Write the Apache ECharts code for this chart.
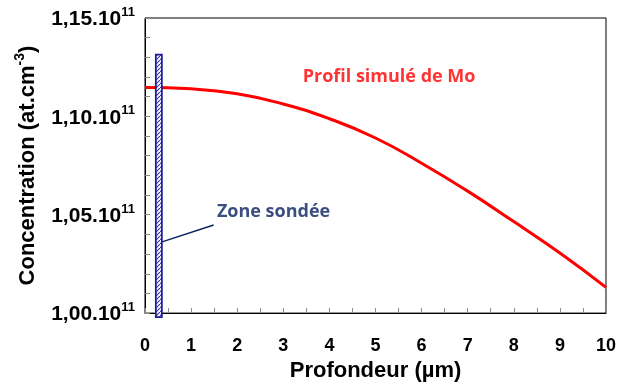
<!DOCTYPE html>
<html>
<head>
<meta charset="utf-8">
<script src="https://cdn.jsdelivr.net/npm/echarts@6/dist/echarts.min.js"></script>
<style>html,body{margin:0;padding:0;background:#fff}#c{width:619px;height:387px}</style>
</head>
<body>
<div id="c"></div>
<script>
// Data
const depth = [0, 1, 2, 3, 4, 5, 6, 7, 8, 9, 10];
const concentration = [1.1147, 1.1140, 1.1115, 1.1063, 1.0988, 1.0890, 1.0762, 1.0620, 1.0465, 1.0305, 1.0131];
const yTicks = [1.00, 1.05, 1.10, 1.15];
const xTicks = [0, 1, 2, 3, 4, 5, 6, 7, 8, 9, 10];
const zoneX = 0.3;          // centre of probed zone (µm)
const zoneWidth = 0.13;     // µm
const zoneRange = [0.998, 1.1314];
const leaderX = [0.37, 1.49];
const leaderY = [1.0362, 1.0448];
const annotations = [
  { name: 'Profil simulé de Mo', x: 3.42, y: 1.1203, color: '#ff0000' },
  { name: 'Zone sondée', x: 1.56, y: 1.0513, color: '#0a2260' }
];

// hatch pattern for zone rectangle
const pc = document.createElement('canvas');
pc.width = 4; pc.height = 4;
const pctx = pc.getContext('2d');
pctx.fillStyle = '#ffffff'; pctx.fillRect(0, 0, 4, 4);
pctx.strokeStyle = '#3a3ab0'; pctx.lineWidth = 1.2;
pctx.beginPath(); pctx.moveTo(0, 4); pctx.lineTo(4, 0); pctx.stroke();

const chart = echarts.init(document.getElementById('c'), null, { renderer: 'canvas' });
const fontAx = '"Liberation Sans", Arial, sans-serif';
chart.setOption({
  animation: false,
  grid: { left: 145, right: 12, top: 18, bottom: 71, show: true, borderColor: '#000', borderWidth: 1, containLabel: false },
  xAxis: {
    type: 'value', min: 0, max: 10, interval: 1,
    axisLine: { show: true, lineStyle: { color: '#000', width: 1 } },
    axisTick: { show: true, inside: true, length: 5, lineStyle: { color: '#888' } },
    minorTick: { show: true, splitNumber: 2, length: 5, lineStyle: { color: '#888' } },
    splitLine: { show: false },
    axisLabel: { margin: 24, color: '#000', fontFamily: fontAx, fontWeight: 'bold', fontSize: 18,
      formatter: v => xTicks.includes(v) ? String(v) : '' },
    name: 'Profondeur (µm)', nameLocation: 'middle', nameGap: 44,
    nameTextStyle: { color: '#000', fontFamily: fontAx, fontWeight: 'bold', fontSize: 22 }
  },
  yAxis: {
    type: 'value', min: 1.00, max: 1.15, interval: 0.05,
    axisLine: { show: true, lineStyle: { color: '#000', width: 1 } },
    axisTick: { show: true, inside: true, length: 5, lineStyle: { color: '#888' } },
    minorTick: { show: true, splitNumber: 5, length: 5, lineStyle: { color: '#888' } },
    splitLine: { show: false },
    axisLabel: {
      margin: 10, color: '#000',
      formatter: v => {
        const t = yTicks.find(k => Math.abs(k - v) < 1e-6);
        if (t === undefined) return '';
        return '{b|' + t.toFixed(2).replace('.', ',') + '.10}{s|11}';
      },
      rich: {
        b: { fontFamily: fontAx, fontWeight: 'bold', fontSize: 21, color: '#000', lineHeight: 24, verticalAlign: 'bottom' },
        s: { fontFamily: fontAx, fontWeight: 'bold', fontSize: 13, color: '#000', lineHeight: 24, verticalAlign: 'top', padding: [0, 0, 10, 0] }
      }
    },
    name: '{b|Concentration (at.cm}{s|-3}{b|)}', nameLocation: 'middle', nameGap: 106,
    nameTextStyle: {
      rich: {
        b: { fontFamily: fontAx, fontWeight: 'bold', fontSize: 22, color: '#000', lineHeight: 26, verticalAlign: 'bottom' },
        s: { fontFamily: fontAx, fontWeight: 'bold', fontSize: 14, color: '#000', lineHeight: 26, verticalAlign: 'top', padding: [0, 0, 10, 0] }
      }
    }
  },
  series: [
    {
      type: 'line', data: depth.map((d, i) => [d, concentration[i]]),
      smooth: true, symbol: 'none', lineStyle: { color: '#ff0000', width: 3 }, z: 2
    },
    {
      type: 'line', data: leaderX.map((d, i) => [d, leaderY[i]]),
      symbol: 'none', lineStyle: { color: '#0a2260', width: 1.5 }, z: 3
    },
    {
      type: 'custom', clip: false, z: 4,
      data: [[zoneX, zoneRange[0], zoneRange[1]]],
      renderItem: (params, api) => {
        const p0 = api.coord([api.value(0), api.value(2)]);
        const p1 = api.coord([api.value(0), api.value(1)]);
        const w = api.size([zoneWidth, 0])[0];
        return {
          type: 'rect',
          shape: { x: p0[0] - w / 2, y: p0[1], width: w, height: p1[1] - p0[1] },
          style: { fill: { image: pc, repeat: 'repeat' }, stroke: '#1c1c96', lineWidth: 1.8 }
        };
      }
    },
    {
      type: 'scatter', symbolSize: 0, z: 5,
      data: annotations.map(a => ({ value: [a.x, a.y], name: a.name,
        label: { show: true, position: 'right', distance: 0, formatter: a.name, color: a.color,
          fontFamily: '"Open Sans", sans-serif', fontWeight: 'bold', fontSize: 18 } }))
    }
  ]
});
</script>
</body>
</html>
